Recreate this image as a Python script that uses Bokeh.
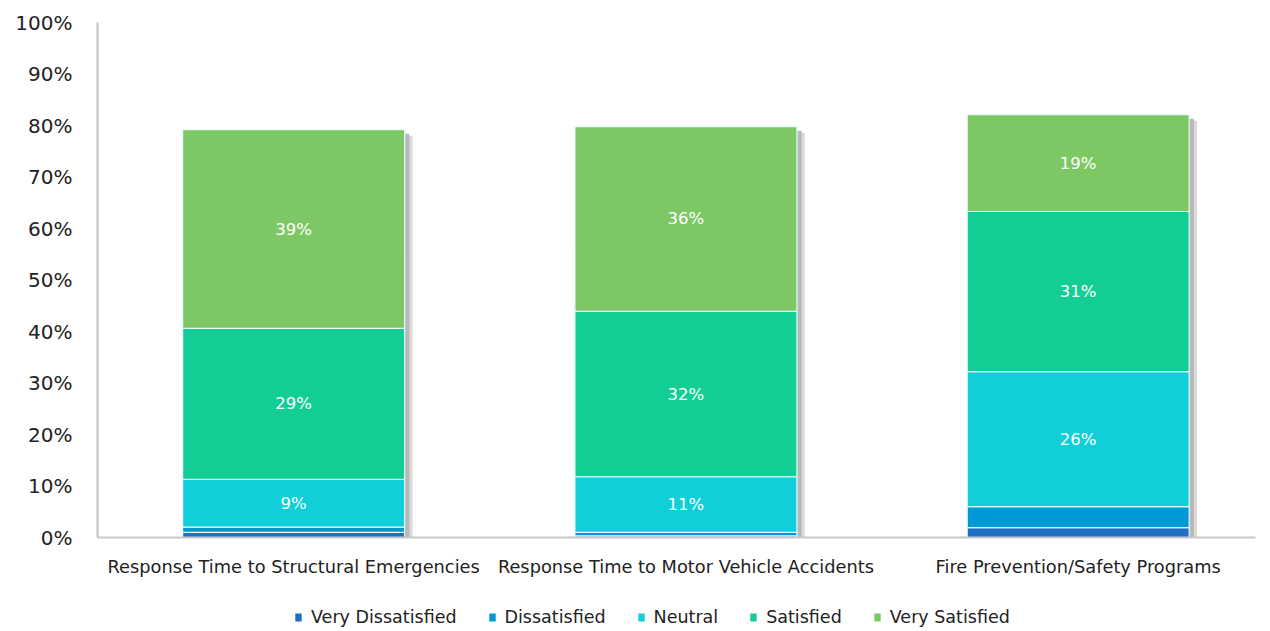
from bokeh.plotting import figure
from bokeh.layouts import column
from bokeh.models import ColumnDataSource, Range1d, FixedTicker, PrintfTickFormatter, Legend
from bokeh.core.properties import value
from bokeh.embed import file_html
from bokeh.resources import INLINE

categories = ["Response Time to Structural Emergencies",
              "Response Time to Motor Vehicle Accidents",
              "Fire Prevention/Safety Programs"]
series_names = ["Very Dissatisfied", "Dissatisfied", "Neutral", "Satisfied", "Very Satisfied"]
very_dissatisfied = [1.0, 0.3, 1.9]
dissatisfied = [1.0, 0.7, 4.1]
neutral = [9.3, 10.8, 26.2]
satisfied = [29.3, 32.1, 31.1]
very_satisfied = [38.6, 35.9, 18.8]
colors = ["#1F6FC6", "#0098D6", "#10CFD9", "#12CE95", "#7DC864"]
labelled = ["Neutral", "Satisfied", "Very Satisfied"]

FONT = "DejaVu Sans"
BAR_W = 0.566
W = 1258

xs = list(range(len(categories)))
series = [very_dissatisfied, dissatisfied, neutral, satisfied, very_satisfied]
data = {"x": xs}
for name, vals in zip(series_names, series):
    data[name] = vals
src = ColumnDataSource(data)

p = figure(width=W, height=592, x_range=Range1d(-0.5, 2.452), y_range=Range1d(0, 100),
           output_backend="svg", toolbar_location=None,
           min_border_left=97, min_border_right=3, min_border_top=22, min_border_bottom=55)
p.outline_line_color = None
p.xgrid.grid_line_color = None
p.ygrid.grid_line_color = None

# shadow behind bars
totals = [sum(v) for v in zip(*series)]
p.vbar(x=[x + 0.012 for x in xs], top=[t - 0.8 for t in totals], bottom=0, width=BAR_W,
       fill_color="#8c8c8c", fill_alpha=0.6, line_color=None)
p.vbar(x=[x + 0.02 for x in xs], top=[t - 1.2 for t in totals], bottom=0, width=BAR_W,
       fill_color="#b5b5b5", fill_alpha=0.5, line_color=None)

p.vbar_stack(series_names, x="x", width=BAR_W, source=src, fill_color=colors,
             line_color="#e6fbfb", line_width=1.2)

# data labels
lx, ly, lt = [], [], []
cum = [0.0] * len(xs)
for name, vals in zip(series_names, series):
    for i, v in enumerate(vals):
        if name in labelled:
            lx.append(xs[i]); ly.append(cum[i] + v / 2); lt.append(f"{round(v)}%")
        cum[i] += v
p.text(x=lx, y=ly, text=lt, text_color="white", text_font=value(FONT), text_font_size="16.5px",
       text_align="center", text_baseline="middle")

# axes
p.yaxis.ticker = FixedTicker(ticks=list(range(0, 101, 10)))
p.yaxis.formatter = PrintfTickFormatter(format="%d%%")
p.yaxis.major_label_text_font = FONT
p.yaxis.major_label_text_font_size = "20px"
p.yaxis.major_label_text_color = "#222222"
p.yaxis.major_label_standoff = 19
p.yaxis.major_tick_line_color = None
p.yaxis.minor_tick_line_color = None
p.yaxis.axis_line_color = "#BFBFBF"
p.yaxis.axis_line_width = 2

p.xaxis.ticker = FixedTicker(ticks=xs)
p.xaxis.major_label_overrides = {x: c for x, c in zip(xs, categories)}
p.xaxis.major_label_text_font = FONT
p.xaxis.major_label_text_font_size = "17.8px"
p.xaxis.major_label_text_color = "#222222"
p.xaxis.major_label_standoff = 12
p.xaxis.major_tick_line_color = None
p.xaxis.minor_tick_line_color = None
p.xaxis.axis_line_color = "#C8C8C8"
p.xaxis.axis_line_width = 2

# legend strip below the chart (swatch renderers have zero height, so draw nothing)
lp = figure(width=W, height=38, x_range=Range1d(0, 1), y_range=Range1d(0, 1),
            output_backend="svg", toolbar_location=None, x_axis_type=None, y_axis_type=None,
            min_border=0)
lp.outline_line_color = None
lp.xgrid.grid_line_color = None
lp.ygrid.grid_line_color = None
swatches = [lp.vbar(x=[0.5], top=[0], bottom=[0], width=0.0, fill_color=c, line_color=None)
            for c in colors]
legend = Legend(items=[(n, [r]) for n, r in zip(series_names, swatches)],
                orientation="horizontal", location=(197, 3))
legend.label_text_font = FONT
legend.label_text_font_size = "17.5px"
legend.label_text_color = "#222222"
legend.glyph_width = 8
legend.glyph_height = 10
legend.label_standoff = 9
legend.spacing = 31
legend.padding = 0
legend.margin = 0
legend.border_line_color = None
legend.background_fill_alpha = 0
lp.add_layout(legend, "center")

layout = column(p, lp, spacing=0)
open("out.html", "w").write(file_html(layout, INLINE))
